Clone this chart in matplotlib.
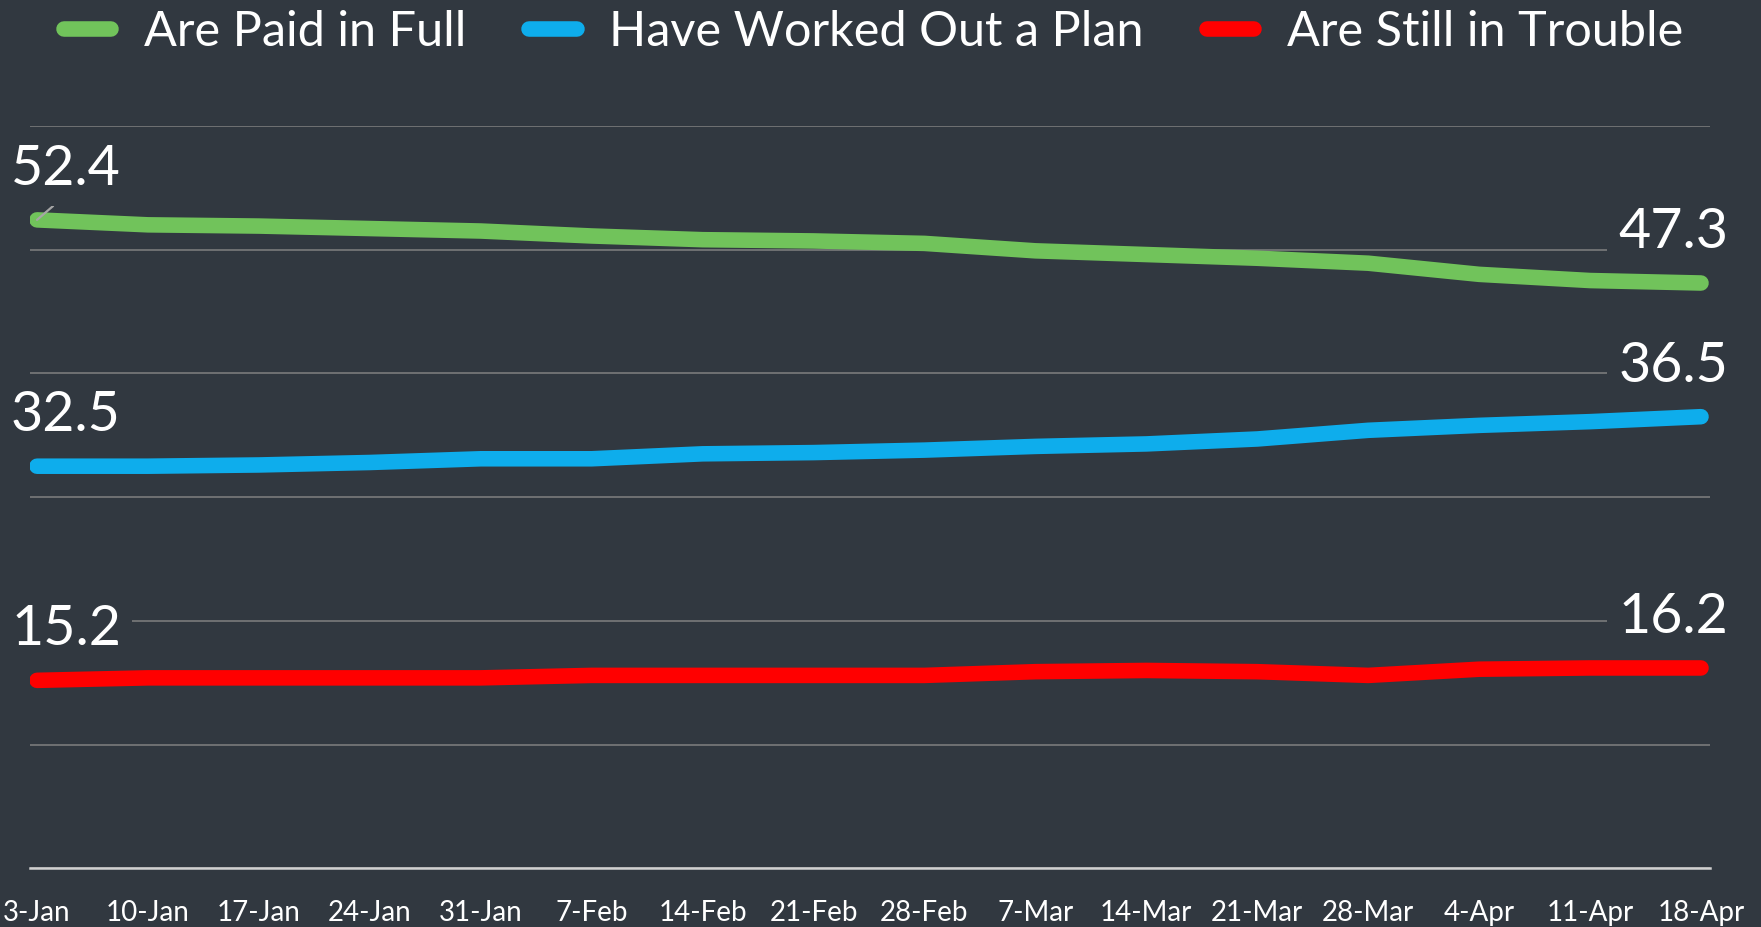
import numpy as np
import matplotlib
matplotlib.use("Agg")
import matplotlib.pyplot as plt
from matplotlib.lines import Line2D

# weekly share of accounts (percent)
dates = ["3-Jan", "10-Jan", "17-Jan", "24-Jan", "31-Jan", "7-Feb", "14-Feb", "21-Feb",
         "28-Feb", "7-Mar", "14-Mar", "21-Mar", "28-Mar", "4-Apr", "11-Apr", "18-Apr"]
paid_full = [52.4, 52.0, 51.9, 51.7, 51.5, 51.1, 50.8, 50.7,
             50.5, 49.9, 49.6, 49.3, 48.9, 48.0, 47.5, 47.3]
worked_plan = [32.5, 32.5, 32.6, 32.8, 33.1, 33.1, 33.5, 33.6,
               33.8, 34.1, 34.3, 34.7, 35.4, 35.8, 36.1, 36.5]
in_trouble = [15.2, 15.4, 15.4, 15.4, 15.4, 15.6, 15.6, 15.6,
              15.6, 15.9, 16.0, 15.9, 15.6, 16.1, 16.2, 16.2]

series_names = ["Are Paid in Full", "Have Worked Out a Plan", "Are Still in Trouble"]
colors = ["#71C35B", "#0EADEC", "#FF0000"]

bg = "#313840"
plt.rcParams['font.family'] = ['Lato', 'DejaVu Sans']

fig = plt.figure(figsize=(17.61, 9.27), dpi=100, facecolor=bg)
ax = fig.add_axes([0.01704, 0.06311, 0.954, 0.80118])
ax.set_facecolor(bg)

x = np.arange(len(dates))
handles = []
for vals, c, name in zip([paid_full, worked_plan, in_trouble], colors, series_names):
    ax.plot(x, vals, color=c, lw=11.2, solid_capstyle='round',
            solid_joinstyle='round', zorder=3)
    handles.append(Line2D([], [], color=c, lw=11.2, solid_capstyle='round'))

    # start label (left) and end label (right), with a box that hides the gridlines
    box = dict(boxstyle='square,pad=0.2', facecolor=bg, edgecolor='none')
    kw = dict(textcoords='offset points', fontsize=40, color='white',
              va='baseline', bbox=box)
    if vals is paid_full:
        # this one gets a leader line drawn over the series
        ax.annotate(f"{vals[0]:.1f}", xy=(x[0], vals[0]), xytext=(-18.7, 25.2),
                    ha='left', zorder=4,
                    arrowprops=dict(arrowstyle='-', color='#a6a6a6', lw=1.6,
                                    shrinkA=0, shrinkB=0, relpos=(0.5, 0.0)),
                    **kw)
    else:
        ax.annotate(f"{vals[0]:.1f}", xy=(x[0], vals[0]), xytext=(-18.7, 25.2),
                    ha='left', zorder=2.5, **kw)
    ax.annotate(f"{vals[-1]:.1f}", xy=(x[-1], vals[-1]), xytext=(19.4, 25.2),
                ha='right', zorder=2.5, **kw)

ax.set_xlim(-0.063, 15.081)
ax.set_ylim(0, 60)
ax.set_yticks(np.arange(0, 61, 10))
ax.yaxis.grid(True, color='#808080', lw=1.1, zorder=1)
ax.set_axisbelow(True)
ax.tick_params(axis='y', left=False, labelleft=False)
ax.set_xticks(x)
ax.set_xticklabels(dates, fontsize=20, color='white')
ax.tick_params(axis='x', length=0, pad=23)
for s in ['top', 'left', 'right']:
    ax.spines[s].set_visible(False)
ax.spines['bottom'].set_color('#d0d0d0')
ax.spines['bottom'].set_linewidth(1.8)
ax.spines['bottom'].set_zorder(2)

fig.legend(handles, series_names, loc='center', bbox_to_anchor=(0.496, 0.966),
           ncol=3, frameon=False, fontsize=35, labelcolor='white',
           handlelength=0.97, handletextpad=0.67, columnspacing=1.3)

fig.savefig("out.png", dpi=100, facecolor=bg)
